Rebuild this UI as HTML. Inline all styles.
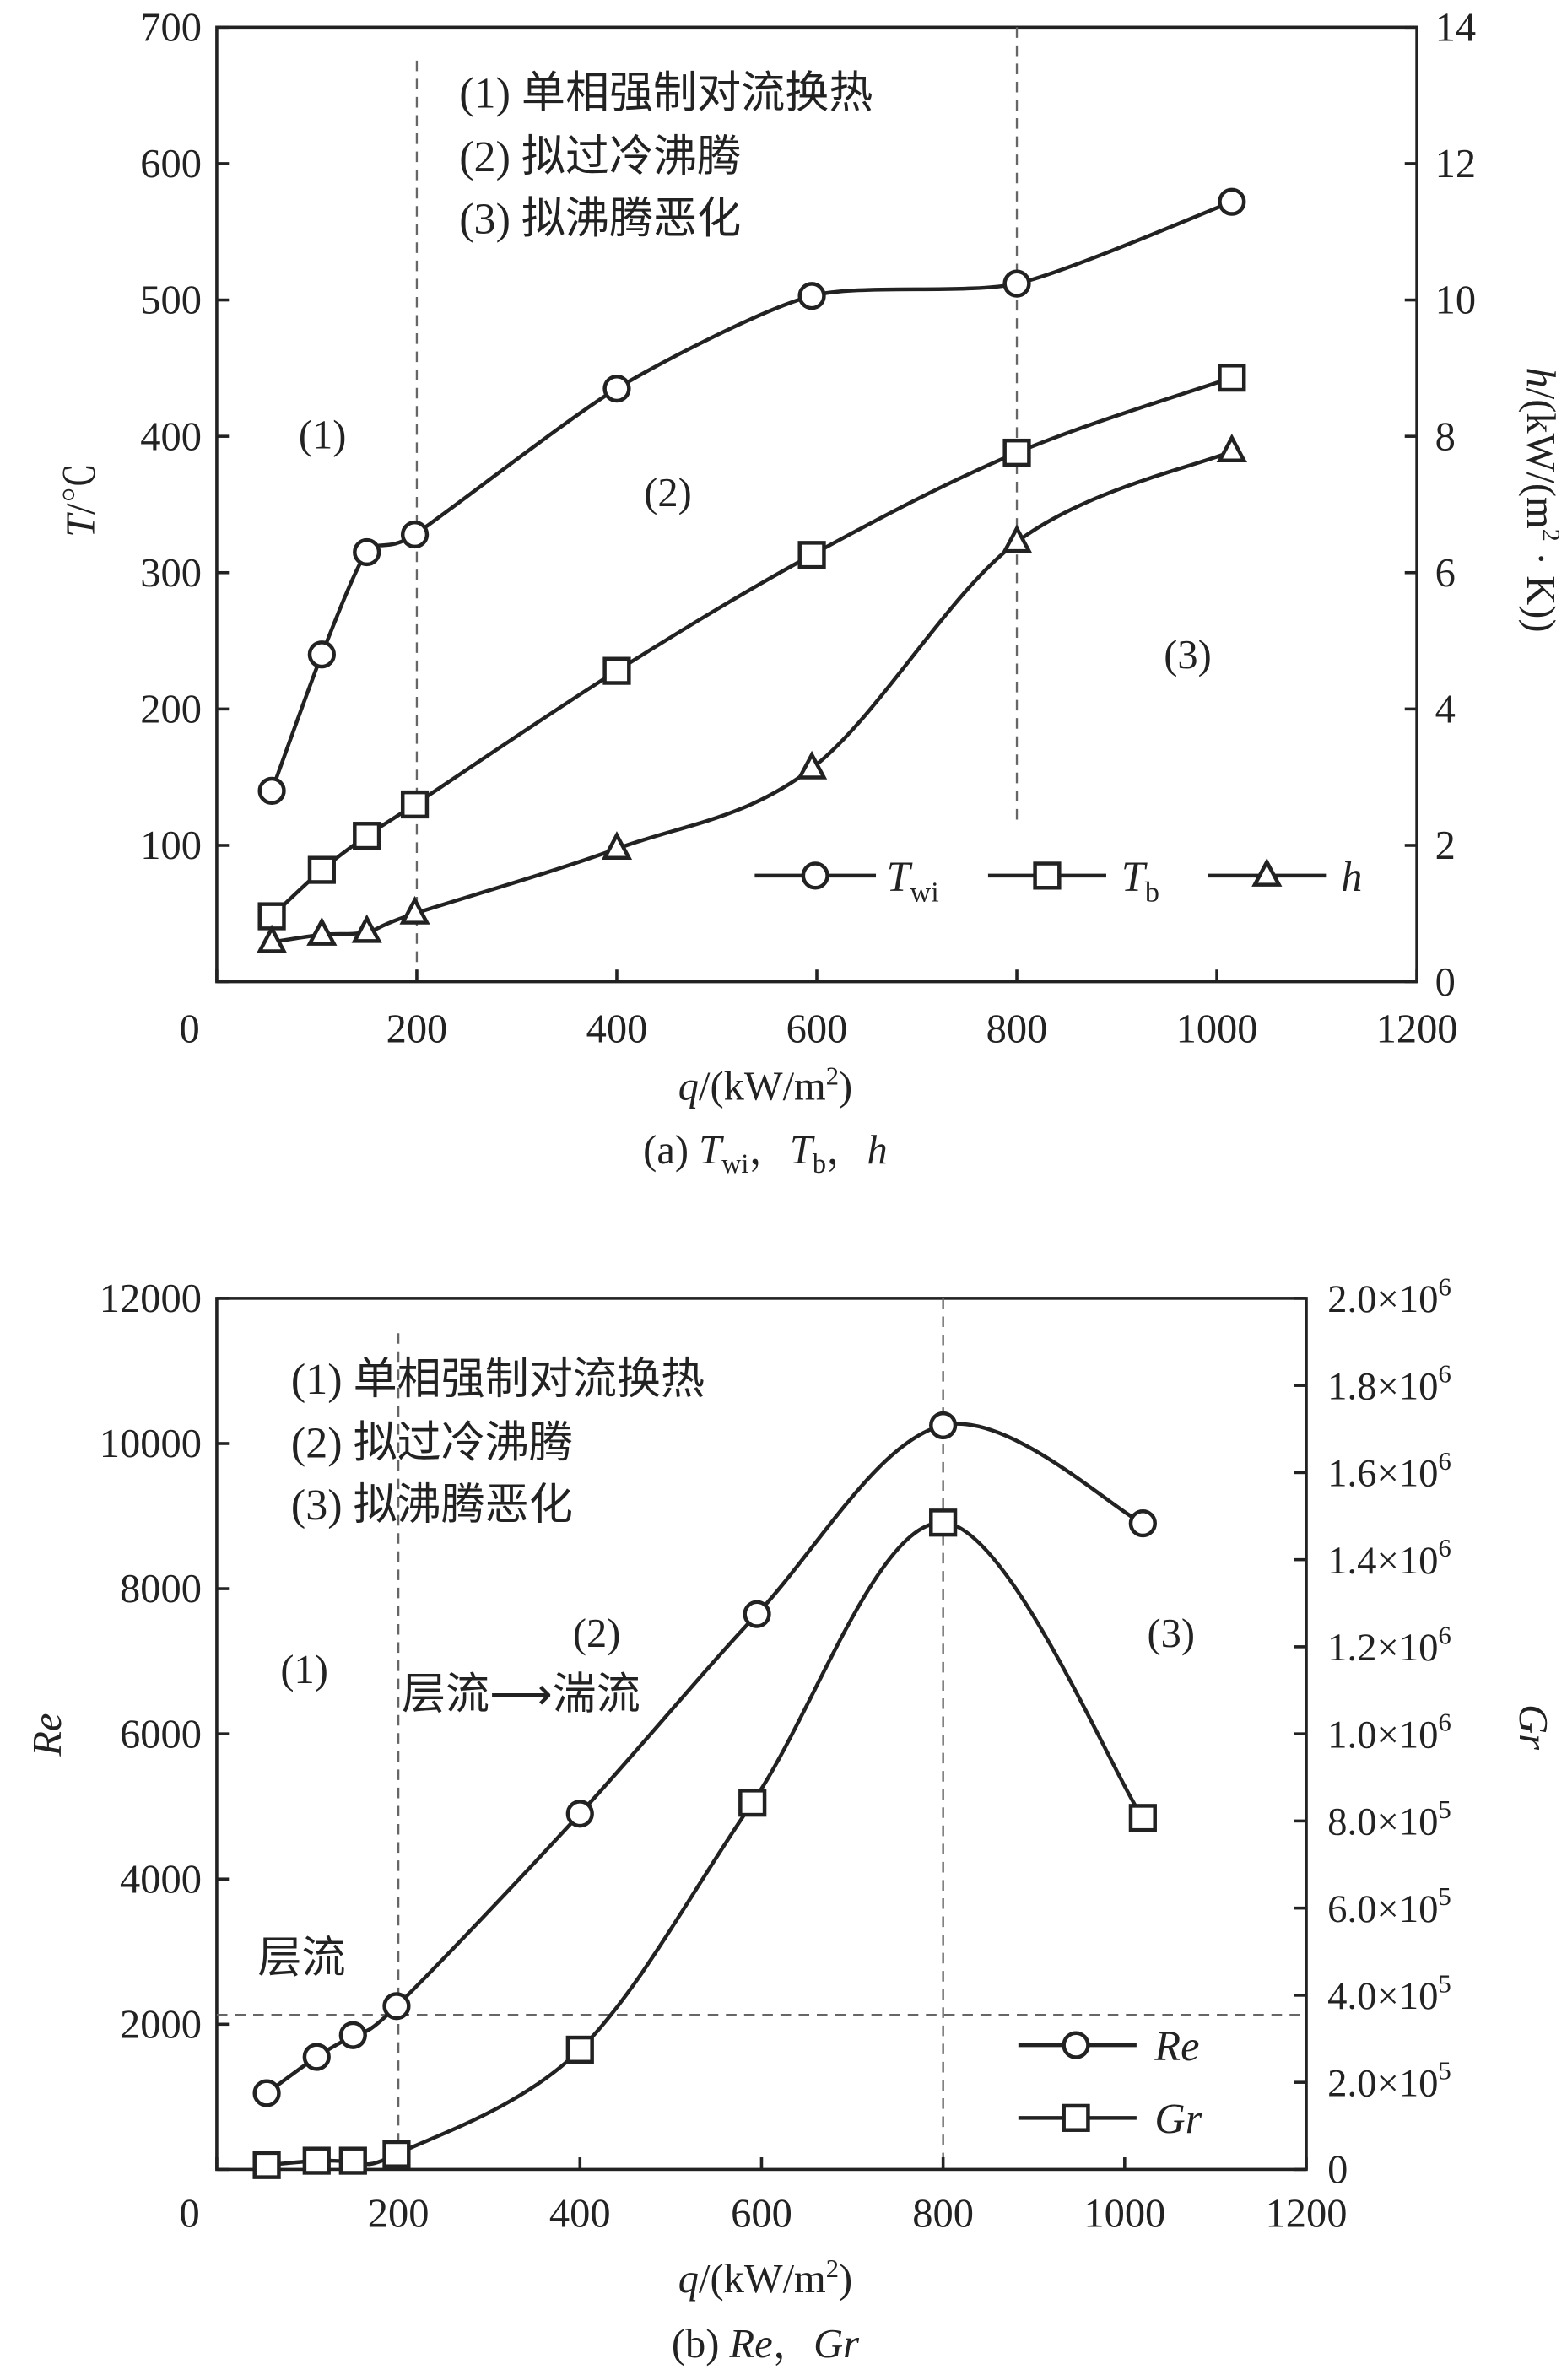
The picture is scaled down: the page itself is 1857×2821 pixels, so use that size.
<!DOCTYPE html>
<html><head><meta charset="utf-8"><style>
html,body{margin:0;padding:0;background:#fff}
svg{display:block}
text{font-family:"Liberation Serif","Noto Serif CJK SC","Noto Sans CJK SC",serif;fill:#222}
.cjk{font-family:"Liberation Serif","Noto Sans CJK SC",sans-serif}
</style></head><body>
<svg id="s" width="1857" height="2821" viewBox="0 0 1034 1571" xmlns="http://www.w3.org/2000/svg">
<g id="ga"></g>
<g id="gb"></g>
</svg>
<script>
// Chart (a) data
const qA=[55,105,150,198,400,595,800,1015];
const twi=[140,240,315,328,435,503,512,572];
const tb=[48,82,107,130,228,313,388,443];
const hVals=[0.58,0.69,0.73,1.0,1.95,3.13,6.45,7.78];
const xTicksA=[0,200,400,600,800,1000,1200];
const yTicksA=[0,100,200,300,400,500,600,700];
const y2TicksA=[0,2,4,6,8,10,12,14];
// Chart (b) data
const qRe=[55,110,150,198,400,595,800,1020];
const reVals=[1050,1550,1850,2250,4900,7650,10250,8900];
const qGr=[55,110,150,198,400,590,800,1020];
const grVals=[10000,20000,20000,35000,275000,842000,1485000,807000];
const xTicksB=[0,200,400,600,800,1000,1200];
const yTicksB=[0,2000,4000,6000,8000,10000,12000];
const y2TicksB=["0","2.0×10|5","4.0×10|5","6.0×10|5","8.0×10|5","1.0×10|6","1.2×10|6","1.4×10|6","1.6×10|6","1.8×10|6","2.0×10|6"];

const NS="http://www.w3.org/2000/svg";
function mk(p,tag,at,txt){const e=document.createElementNS(NS,tag);for(const k in at)e.setAttribute(k,at[k]);if(txt!=null)e.textContent=txt;p.appendChild(e);return e;}
function spline(pts,ten){let d=`M${pts[0][0]},${pts[0][1]}`;for(let i=0;i<pts.length-1;i++){const p0=pts[i-1]||pts[i],p1=pts[i],p2=pts[i+1],p3=pts[i+2]||p2;const t=ten/3;
d+=` C${p1[0]+(p2[0]-p0[0])*t},${p1[1]+(p2[1]-p0[1])*t} ${p2[0]-(p3[0]-p1[0])*t},${p2[1]-(p3[1]-p1[1])*t} ${p2[0]},${p2[1]}`;}return d;}
function marker(g,type,x,y,name){let e;
if(type==='c')e=mk(g,'circle',{cx:x,cy:y,r:8,fill:'#fff',stroke:'#222','stroke-width':2.5});
else if(type==='s')e=mk(g,'rect',{x:x-8,y:y-8,width:16,height:16,fill:'#fff',stroke:'#222','stroke-width':2.5});
else e=mk(g,'polygon',{points:`${x},${y-9} ${x-8},${y+6} ${x+8},${y+6}`,fill:'#fff',stroke:'#222','stroke-width':2.5});

}
function series(g,xs,ys,fx,fy,type,name,ten){const pts=xs.map((q,i)=>[fx(q),fy(ys[i])]);
const p=mk(g,'path',{d:spline(pts,ten||0.5),fill:'none',stroke:'#222','stroke-width':2.5});


pts.forEach((pt,i)=>marker(g,type,pt[0],pt[1],name+'-point'));}
function txt(g,x,y,s,name,opts={}){const e=mk(g,'text',Object.assign({x:x,y:y,'font-size':27},opts),s);

return e;}
function sup(g,x,y,base,ex,name,anchor){const t=mk(g,'text',{x:x,y:y,'font-size':26,'text-anchor':anchor||'start'});


mk(t,'tspan',{},base);mk(t,'tspan',{dy:-11,'font-size':17},ex);return t;}

// ===== Chart A =====
(function(){const g=document.getElementById('ga');
const L=143,R=935,T=18,B=648;
const fx=q=>L+q*(R-L)/1200, fy=v=>B-v*(B-T)/700, fy2=v=>B-v*(B-T)/14;
const box=mk(g,'rect',{x:L,y:T,width:R-L,height:B-T,fill:'none',stroke:'#222','stroke-width':2});


[[200,40,648],[800,18,545]].forEach(d=>{const l=mk(g,'line',{x1:fx(d[0]),x2:fx(d[0]),y1:d[1],y2:d[2],stroke:'#666','stroke-width':1.3,'stroke-dasharray':'7,5'});});
xTicksA.forEach(v=>{mk(g,'line',{x1:fx(v),x2:fx(v),y1:B,y2:B-8,stroke:'#222','stroke-width':2});txt(g,v===0?125:fx(v),688,String(v),'x-tick-label',{'text-anchor':'middle'});});
yTicksA.forEach(v=>{mk(g,'line',{x1:L,x2:L+8,y1:fy(v),y2:fy(v),stroke:'#222','stroke-width':2});if(v>0)txt(g,133,fy(v)+9,String(v),'y-tick-label',{'text-anchor':'end'});});
y2TicksA.forEach(v=>{mk(g,'line',{x1:R,x2:R-8,y1:fy2(v),y2:fy2(v),stroke:'#222','stroke-width':2});txt(g,947,fy2(v)+9,String(v),'y2-tick-label');});
series(g,qA,twi,fx,fy,'c','twi',0.35);
series(g,qA,tb,fx,fy,'s','tb');
series(g,qA,hVals,fx,fy2,'t','h');
txt(g,303,71,'(1) 单相强制对流换热','region-legend-1',{'font-size':29,class:'cjk'});
txt(g,303,113,'(2) 拟过冷沸腾','region-legend-2',{'font-size':29,class:'cjk'});
txt(g,303,154,'(3) 拟沸腾恶化','region-legend-3',{'font-size':29,class:'cjk'});
txt(g,197,296,'(1)','region-label-1');txt(g,425,334,'(2)','region-label-2');txt(g,768,441,'(3)','region-label-3');
[[498,578,'c','Twi'],[652,730,'s','Tb'],[797,875,'t','h']].forEach(d=>{const l=mk(g,'line',{x1:d[0],x2:d[1],y1:578,y2:578,stroke:'#222','stroke-width':2.5});marker(g,d[2],(d[0]+d[1])/2,578,'legend-marker');});
let t=txt(g,585,588,'','legend-twi',{'font-style':'italic','font-size':28});mk(t,'tspan',{},'T');mk(t,'tspan',{dy:7,'font-size':19,'font-style':'normal'},'wi');
t=txt(g,740,588,'','legend-tb',{'font-style':'italic','font-size':28});mk(t,'tspan',{},'T');mk(t,'tspan',{dy:7,'font-size':19,'font-style':'normal'},'b');
txt(g,885,588,'h','legend-h',{'font-style':'italic','font-size':28});
t=txt(g,0,0,'','y-axis-title-a',{transform:'translate(62,330) rotate(-90)','text-anchor':'middle'});mk(t,'tspan',{'font-style':'italic'},'T');mk(t,'tspan',{},'/℃');
t=txt(g,0,0,'','y2-axis-title-a',{transform:'translate(1008,330) rotate(90)','text-anchor':'middle'});mk(t,'tspan',{'font-style':'italic'},'h');mk(t,'tspan',{},'/(kW/(m');mk(t,'tspan',{dy:-10,'font-size':17},'2');mk(t,'tspan',{dy:10},' · K))');
t=txt(g,505,726,'','x-axis-title-a',{'text-anchor':'middle'});mk(t,'tspan',{'font-style':'italic'},'q');mk(t,'tspan',{},'/(kW/m');mk(t,'tspan',{dy:-10,'font-size':17},'2');mk(t,'tspan',{dy:10},')');
t=txt(g,505,768,'','caption-a',{'text-anchor':'middle'});mk(t,'tspan',{},'(a) ');mk(t,'tspan',{'font-style':'italic'},'T');mk(t,'tspan',{dy:6,'font-size':18},'wi');mk(t,'tspan',{dy:-6},'，');mk(t,'tspan',{'font-style':'italic'},'T');mk(t,'tspan',{dy:6,'font-size':18},'b');mk(t,'tspan',{dy:-6},'，');mk(t,'tspan',{'font-style':'italic'},'h');
})();

// ===== Chart B =====
(function(){const g=document.getElementById('gb');
const L=143,R=862,T=857,B=1432;
const fx=q=>L+q*(R-L)/1200, fy=v=>B-v*(B-T)/12000, fy2=v=>B-v*(B-T)/2e6;
const box=mk(g,'rect',{x:L,y:T,width:R-L,height:B-T,fill:'none',stroke:'#222','stroke-width':2});


[[200,880],[800,857]].forEach(d=>{const l=mk(g,'line',{x1:fx(d[0]),x2:fx(d[0]),y1:d[1],y2:B,stroke:'#666','stroke-width':1.3,'stroke-dasharray':'7,5'});});
const hl=mk(g,'line',{x1:L,x2:R,y1:fy(2130),y2:fy(2130),stroke:'#666','stroke-width':1.3,'stroke-dasharray':'7,5'});
xTicksB.forEach(v=>{mk(g,'line',{x1:fx(v),x2:fx(v),y1:B,y2:B-8,stroke:'#222','stroke-width':2});txt(g,v===0?125:fx(v),1470,String(v),'x-tick-label',{'text-anchor':'middle'});});
yTicksB.forEach(v=>{mk(g,'line',{x1:L,x2:L+8,y1:fy(v),y2:fy(v),stroke:'#222','stroke-width':2});if(v>0)txt(g,133,fy(v)+9,String(v),'y-tick-label',{'text-anchor':'end'});});
y2TicksB.forEach((s,i)=>{const y=fy2(i*2e5);mk(g,'line',{x1:R,x2:R-8,y1:y,y2:y,stroke:'#222','stroke-width':2});const p=s.split('|');if(p.length===1)txt(g,876,y+9,s,'y2-tick-label');else sup(g,876,y+9,p[0],p[1],'y2-tick-label');});
series(g,qRe,reVals,fx,fy,'c','re');
series(g,qGr,grVals,fx,fy2,'s','gr');
txt(g,192,920,'(1) 单相强制对流换热','region-legend-1',{'font-size':29,class:'cjk'});
txt(g,192,962,'(2) 拟过冷沸腾','region-legend-2',{'font-size':29,class:'cjk'});
txt(g,192,1003,'(3) 拟沸腾恶化','region-legend-3',{'font-size':29,class:'cjk'});
txt(g,185,1111,'(1)','region-label-1');txt(g,378,1087,'(2)','region-label-2');txt(g,757,1087,'(3)','region-label-3');
txt(g,265,1128,'层流⟶湍流','transition-label',{'font-size':29,class:'cjk'});
txt(g,170,1302,'层流','laminar-label',{'font-size':29,class:'cjk'});
[[1350,'c'],[1398,'s']].forEach(d=>{const l=mk(g,'line',{x1:672,x2:750,y1:d[0],y2:d[0],stroke:'#222','stroke-width':2.5});marker(g,d[1],710,d[0],'legend-marker');});
txt(g,762,1360,'Re','legend-re',{'font-style':'italic','font-size':28});
txt(g,762,1408,'Gr','legend-gr',{'font-style':'italic','font-size':28});
txt(g,0,0,'Re','y-axis-title-b',{transform:'translate(40,1145) rotate(-90)','text-anchor':'middle','font-style':'italic'});
txt(g,0,0,'Gr','y2-axis-title-b',{transform:'translate(1003,1140) rotate(90)','text-anchor':'middle','font-style':'italic'});
let t=txt(g,505,1513,'','x-axis-title-b',{'text-anchor':'middle'});mk(t,'tspan',{'font-style':'italic'},'q');mk(t,'tspan',{},'/(kW/m');mk(t,'tspan',{dy:-10,'font-size':17},'2');mk(t,'tspan',{dy:10},')');
t=txt(g,505,1556,'','caption-b',{'text-anchor':'middle'});mk(t,'tspan',{},'(b) ');mk(t,'tspan',{'font-style':'italic'},'Re');mk(t,'tspan',{},'，');mk(t,'tspan',{'font-style':'italic'},'Gr');
})();
</script>
</body></html>
